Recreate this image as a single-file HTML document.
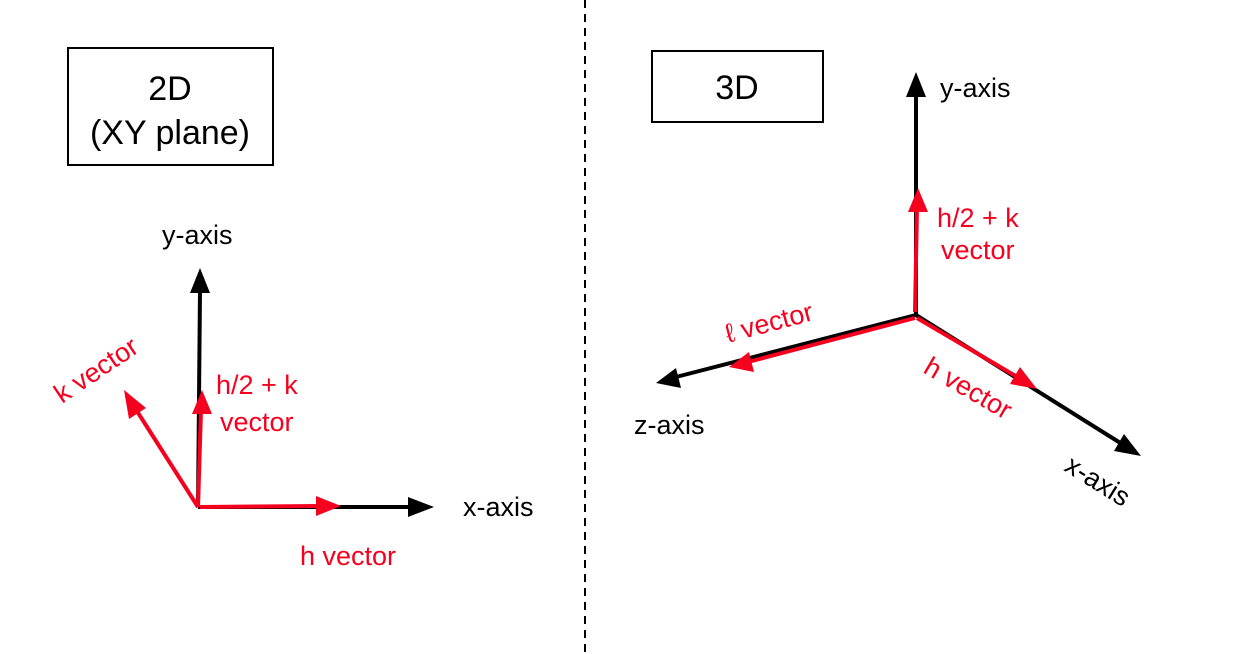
<!DOCTYPE html>
<html><head><meta charset="utf-8"><style>
html,body{margin:0;padding:0;background:#fff}
svg{display:block}
text{font-family:"Liberation Sans",sans-serif;font-size:27px}
text.big{font-size:34px}
</style></head><body>
<svg width="1246" height="654" viewBox="0 0 1246 654">
<line x1="585" y1="0" x2="585" y2="654" stroke="#000" stroke-width="2" stroke-dasharray="8,6"/>
<rect x="68" y="48" width="205" height="117" fill="none" stroke="#000" stroke-width="2"/>
<text class="big" x="170" y="100" text-anchor="middle">2D</text>
<text class="big" x="170" y="144" text-anchor="middle">(XY plane)</text>
<rect x="652" y="51" width="171" height="71" fill="none" stroke="#000" stroke-width="2"/>
<text class="big" x="737" y="99" text-anchor="middle">3D</text>

<g stroke-width="4">
<line x1="198" y1="507" x2="200" y2="290" stroke="#000"/>
<polygon points="200,268 190,293 210,293" fill="#000"/>
<line x1="198" y1="507" x2="412" y2="507" stroke="#000"/>
<polygon points="434,507 408,497 408,517" fill="#000"/>
<line x1="198" y1="507" x2="201" y2="410" stroke="#f5001e"/>
<polygon points="202,390 192,414 212,414" fill="#f5001e"/>
<line x1="198" y1="507" x2="135" y2="408" stroke="#f5001e"/>
<polygon points="124,390 129,419 146,408" fill="#f5001e"/>
<line x1="200" y1="507" x2="320" y2="506" stroke="#f5001e"/>
<polygon points="341,506 316,496 316,516" fill="#f5001e"/>

<line x1="916" y1="315" x2="916" y2="95" stroke="#000"/>
<polygon points="916,72 906,97 926,97" fill="#000"/>
<line x1="916" y1="315" x2="676" y2="377" stroke="#000"/>
<polygon points="656,383 681,388 676,368" fill="#000"/>
<line x1="916" y1="315" x2="1122" y2="444" stroke="#000"/>
<polygon points="1141,456 1124,434 1114,451" fill="#000"/>
<line x1="915" y1="312" x2="917" y2="208" stroke="#f5001e"/>
<polygon points="918,188 908,212 928,212" fill="#f5001e"/>
<line x1="915" y1="318" x2="748" y2="362" stroke="#f5001e"/>
<polygon points="729,367 754,372 749,352" fill="#f5001e"/>
<line x1="917" y1="318" x2="1019" y2="378" stroke="#f5001e"/>
<polygon points="1037,389 1020,367 1010,384" fill="#f5001e"/>
</g>

<text x="162" y="244">y-axis</text>
<text x="463" y="516">x-axis</text>
<text x="300" y="565" fill="#f5001e">h vector</text>
<text x="216" y="394" fill="#f5001e">h/2 + k</text>
<text x="220" y="431" fill="#f5001e">vector</text>
<text x="0" y="0" fill="#f5001e" transform="translate(62,404) rotate(-34)">k vector</text>

<text x="940" y="97">y-axis</text>
<text x="634" y="434">z-axis</text>
<text x="937" y="227" fill="#f5001e">h/2 + k</text>
<text x="941" y="259" fill="#f5001e">vector</text>
<text x="0" y="0" fill="#f5001e" transform="translate(728,343) rotate(-15)">ℓ vector</text>
<text x="0" y="0" fill="#f5001e" transform="translate(922,372) rotate(30)">h vector</text>
<text x="0" y="0" transform="translate(1063,470) rotate(32)">x-axis</text>
</svg>
</body></html>
